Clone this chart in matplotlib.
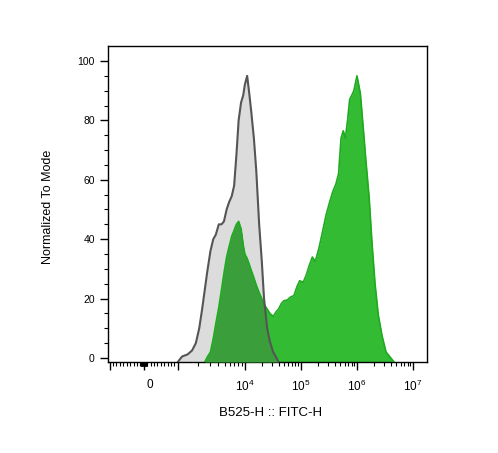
import matplotlib
matplotlib.use("Agg")
import matplotlib.pyplot as plt
from matplotlib.ticker import FixedLocator
from matplotlib.transforms import ScaledTranslation
import numpy as np

plt.rcParams['font.family'] = ['Liberation Sans', 'DejaVu Sans']
plt.rcParams['mathtext.fontset'] = 'custom'
plt.rcParams['mathtext.rm'] = 'Liberation Sans'
plt.rcParams['mathtext.it'] = 'Liberation Sans'

# B525-H :: FITC-H channel values, shared by both histograms
fitc = [470, 1000, 1160, 1400, 1630, 1860, 2090, 2310, 2530, 2750,
        3070, 3380, 3690, 4090, 4490, 4880, 5350, 5830, 6380, 6920,
        7470, 8080, 8780, 9470, 10000, 11000, 12000, 13000, 14500, 16000,
        18000, 20000, 22000, 25000, 28000, 32000, 36000, 40000, 45000, 50000,
        57000, 65000, 75000, 85000, 95000, 110000, 125000, 140000, 160000, 180000,
        210000, 240000, 280000, 320000, 370000, 420000, 470000, 520000, 570000, 620000,
        680000, 740000, 810000, 880000, 1000000, 1050000, 1150000, 1300000, 1450000, 1650000,
        1850000, 2100000, 2400000, 2800000, 3300000, 3900000, 4600000]

# normalized to mode (%)
unstained = [0, 0, 0.5, 1.2, 2.5, 5, 10, 16.5, 23, 29,
             36, 40, 41.5, 45, 45, 46, 50, 52.5, 54.5, 58,
             68, 80, 86, 88.5, 92, 95, 89, 83, 74, 63,
             45, 33, 20, 10, 5.5, 2, 0.3, 0, 0, 0,
             0, 0, 0, 0, 0, 0, 0, 0, 0, 0,
             0, 0, 0, 0, 0, 0, 0, 0, 0, 0,
             0, 0, 0, 0, 0, 0, 0, 0, 0, 0,
             0, 0, 0, 0, 0, 0, 0]

stained = [0, 0, 0, 0, 0, 0, 0, 0, 0, 0.3,
           2, 6.5, 11.5, 17, 23, 28.5, 34, 37.5, 41, 43,
           45, 46, 43.5, 38, 35, 33.5, 31.5, 29.5, 27, 24.5,
           22, 20, 18, 16.5, 15, 14, 15.5, 16.5, 18.4, 19.3,
           19.5, 20.5, 21, 24, 26, 25.5, 28, 31, 34, 32.5,
           37, 42, 48, 52, 56, 58.5, 62, 74, 76.5, 74,
           80, 87, 88.5, 90, 95, 93, 89, 77, 66, 54,
           39, 25, 14.5, 7.5, 2, 0.3, 0]

x_major = [-1000, 0, 1000, 1e4, 1e5, 1e6, 1e7]
x_major_labels = ['', '0', '', '$10^4$', '$10^5$', '$10^6$', '$10^7$']
y_major = [0, 20, 40, 60, 80, 100]


# biexponential display: linear within +-1000, then log decades
def biex(x):
    x = np.asarray(x, float)
    a = np.abs(x)
    lg = np.where(a < 1e4,
                  34 + 67 * np.log10(np.maximum(a, 1e3) / 1e3),
                  101 + 56 * np.log10(np.maximum(a, 1e4) / 1e4))
    return np.where(a <= 1e3, 144 + 0.034 * x, 144 + np.sign(x) * lg)


def biex_inv(p):
    d = np.asarray(p, float) - 144
    a = np.abs(d)
    lg = np.where(a < 101,
                  1e3 * 10 ** ((np.maximum(a, 34) - 34) / 67),
                  1e4 * 10 ** ((np.maximum(a, 101) - 101) / 56))
    return np.where(a <= 34, d / 0.034, np.sign(d) * lg)


floor = -1.35
x = np.array(fitc, float)
gray = np.array(unstained, float)
green = np.array(stained, float)
gray_f = np.where(gray > 0, gray, floor)
green_f = np.where(green > 0, green, floor)


def span(y):
    nz = np.nonzero(y)[0]
    return slice(max(nz[0] - 1, 0), min(nz[-1] + 2, len(y)))


fig = plt.figure(figsize=(4.98, 4.53), dpi=100)
ax = fig.add_axes([0.2169, 0.2009, 0.6406, 0.6976])
ax.set_xscale('function', functions=(biex, biex_inv))

sg = span(gray)
sq = span(green)
ax.fill_between(x[sg], floor, gray_f[sg], color='#dcdcdc', lw=0, zorder=1)
ax.fill_between(x[sq], floor, green_f[sq], color='#33bb33', lw=0, zorder=2)
ax.fill_between(x, floor, np.minimum(gray_f, green_f), color='#3a9f3a', lw=0, zorder=3)
ax.plot(x[sq], green_f[sq], color='#1faa1f', lw=1.2, zorder=4)
ax.plot(x[sg], gray_f[sg], color='#555555', lw=1.5, zorder=5)

ax.set_xlim(-1059, 1.777e7)
ax.set_ylim(floor, 105.05)

ax.xaxis.set_major_locator(FixedLocator(x_major))
ax.set_xticklabels(x_major_labels)
minors = []
for m in range(1, 10):
    minors += [m * 10, -m * 10, m * 100, -m * 100]
for k in [1e3, 1e4, 1e5, 1e6]:
    minors += [m * k for m in range(2, 10)]
ax.xaxis.set_minor_locator(FixedLocator(minors))

ax.set_yticks(y_major)
ax.yaxis.set_minor_locator(FixedLocator([v for v in range(0, 101, 5) if v % 20]))

ax.tick_params(which='major', length=6, width=1, colors='black')
ax.tick_params(axis='y', which='major', labelsize=7.5)
ax.tick_params(axis='x', which='major', labelsize=8.5, pad=6)
ax.tick_params(which='minor', length=3, width=0.8)
for s in ax.spines.values():
    s.set_linewidth(1)

# the "0" label sits a little right of its tick in the original
zero_lbl = ax.get_xticklabels()[1]
zero_lbl.set_transform(zero_lbl.get_transform() + ScaledTranslation(0.06, 0, fig.dpi_scale_trans))

ax.set_xlabel('B525-H :: FITC-H', fontsize=9.5)
ax.set_ylabel('Normalized To Mode', fontsize=9)
ax.xaxis.set_label_coords(0.51, -0.142)
ax.yaxis.set_label_coords(-0.17, 0.49)

fig.savefig('out.png', dpi=100)
